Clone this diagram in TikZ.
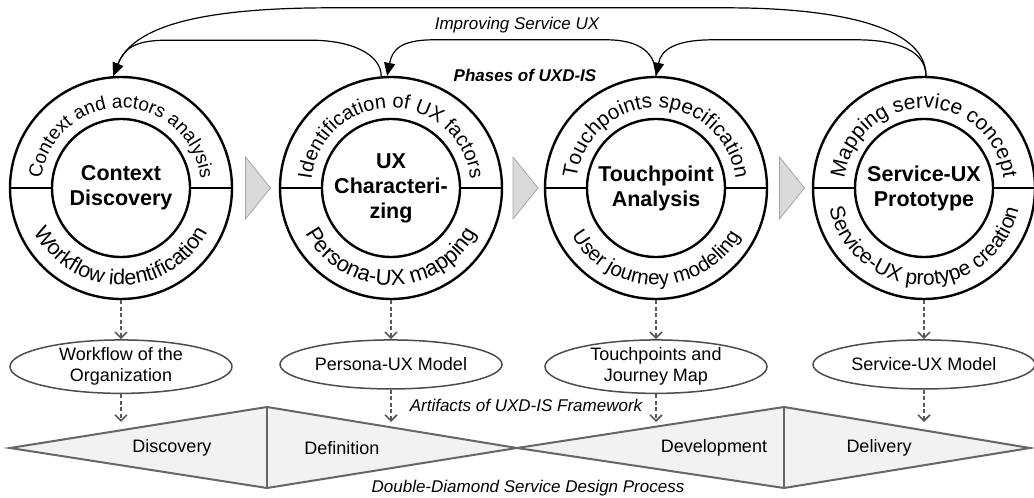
\documentclass[tikz,border=0pt]{standalone}
\usepackage{fontspec}
\setmainfont{Liberation Sans}
\usetikzlibrary{arrows.meta,positioning,calc,shapes.geometric,decorations.text}

\begin{document}
\begin{tikzpicture}[x=1pt, y=1pt,
    phase/.style={circle, draw, line width=2.4pt, minimum size=222pt, inner sep=0pt},
    core/.style={circle, draw, line width=2.4pt, minimum size=138pt, inner sep=0pt, align=center, font=\fontsize{21.5}{25}\selectfont\bfseries},
    artifact/.style={ellipse, draw=black!70, line width=1.5pt, fill=white, minimum width=222pt, minimum height=49pt, inner sep=0pt, align=center, font=\fontsize{18}{21}\selectfont},
    nextstep/.style={draw=black!35, fill=black!15, line width=0.8pt},
    feedback/.style={-{Triangle[length=13pt,width=11pt]}, line width=1.2pt},
    outarrow/.style={-{Straight Barb[length=6pt,width=12pt]}, draw=black!65, line width=1.6pt, dash pattern=on 4pt off 2.5pt},
    halfdiamond/.style={draw=black!60, fill=black!5, line width=2pt},
    stage/.style={font=\fontsize{18}{21}\selectfont},
    note/.style={font=\fontsize{17}{20}\selectfont\itshape},
    boldnote/.style={font=\fontsize{17}{20}\selectfont\bfseries\itshape}
]
\useasboundingbox (0,0) rectangle (1034,498);

% double diamond
\path[halfdiamond] (10,50) -- (267,91) -- (517,50) -- (267,10) -- cycle;
\path[halfdiamond] (517,50) -- (784,91) -- (1030,50) -- (784,10) -- cycle;
\draw[halfdiamond] (267,91) -- (267,10);
\draw[halfdiamond] (784,91) -- (784,10);
\node[stage] (st1) at (172,50) {Discovery};
\node[stage] (st2) at (342,50) {Definition};
\node[stage] (st3) at (714,50) {Development};
\node[stage] (st4) at (879,50) {Delivery};

% phases
\node[phase] (c1) at (121,310) {};
\node[phase] (c2) at (391,310) {};
\node[phase] (c3) at (656,310) {};
\node[phase] (c4) at (924,310) {};
\node[core] (k1) at (c1) {Context\\Discovery};
\node[core] (k2) at (c2) {UX\\Characteri-\\zing};
\node[core] (k3) at (c3) {Touchpoint\\Analysis};
\node[core] (k4) at (c4) {Service-UX\\Prototype};
\foreach \n in {1,2,3,4} {
  \draw[line width=2.4pt] (k\n.west) -- (c\n.west);
  \draw[line width=2.4pt] (k\n.east) -- (c\n.east);
}

% activities on the rings
\path[decorate, decoration={text along path, text align=center,
  text={|\fontsize{19}{19}\selectfont|Context and actors analysis}}]
  ($(c1)+(180:80pt)$) arc[start angle=180, end angle=0, radius=80pt];
\path[decorate, decoration={text along path, text align=center,
  text={|\fontsize{21.5}{21.5}\selectfont|Workflow identification}}]
  ($(c1)+(180:97pt)$) arc[start angle=180, end angle=360, radius=97pt];
\path[decorate, decoration={text along path, text align=center,
  text={|\fontsize{20}{20}\selectfont|Identification of UX factors}}]
  ($(c2)+(180:80pt)$) arc[start angle=180, end angle=0, radius=80pt];
\path[decorate, decoration={text along path, text align=center,
  text={|\fontsize{22}{22}\selectfont|Persona-UX mapping}}]
  ($(c2)+(180:97pt)$) arc[start angle=180, end angle=360, radius=97pt];
\path[decorate, decoration={text along path, text align=center,
  text={|\fontsize{20.7}{20.7}\selectfont|Touchpoints specification}}]
  ($(c3)+(180:80pt)$) arc[start angle=180, end angle=0, radius=80pt];
\path[decorate, decoration={text along path, text align=center,
  text={|\fontsize{20.5}{20.5}\selectfont|User journey modeling}}]
  ($(c3)+(180:97pt)$) arc[start angle=180, end angle=360, radius=97pt];
\path[decorate, decoration={text along path, text align=center,
  text={|\fontsize{21}{21}\selectfont|Mapping service concept}}]
  ($(c4)+(180:80pt)$) arc[start angle=180, end angle=0, radius=80pt];
\path[decorate, decoration={text along path, text align=center,
  text={|\fontsize{21}{21}\selectfont|Service-UX protype creation}}]
  ($(c4)+(180:97pt)$) arc[start angle=180, end angle=360, radius=97pt];

% arrows between phases
\foreach \a/\b in {c1/c2, c2/c3, c3/c4}
  \path[nextstep] ($(\a.east)!0.5!(\b.west)$) ++(-10.5,31) -- ++(25,-31) -- ++(-25,-31) -- cycle;

% feedback loops
\draw[feedback] (c4.89) .. controls +(0,50) and +(110,0) .. ++(-200,68) -- ++(-395,0)
  .. controls +(-130,0) and +(20,50) .. (c1.94);
\draw[feedback] (c2.95) .. controls +(0,22) and +(40,0) .. ++(-70,36) -- ++(-145,0)
  .. controls +(-35,0) and +(10,25) .. (c1.94);
\draw[feedback] (c3.north) .. controls +(0,22) and +(35,0) .. ++(-50,36) -- ++(-172,0)
  .. controls +(-35,0) and +(5,25) .. (c2.92);
\draw[feedback] (c4.89) .. controls +(0,25) and +(40,0) .. ++(-69,36) -- ++(-144,0)
  .. controls +(-40,0) and +(5,25) .. (c3.north);
\node[note] (improve) at (517,473) {Improving Service UX};
\node[boldnote] (phases) at (525,423) {Phases of UXD-IS};

% artifacts
\node[artifact, below=39pt of c1] (a1) {Workflow of the\\Organization};
\node[artifact, below=39pt of c2] (a2) {Persona-UX Model};
\node[artifact, below=39pt of c3] (a3) {Touchpoints and\\Journey Map};
\node[artifact, below=39pt of c4] (a4) {Service-UX Model};
\foreach \n in {1,2,3,4} {
  \coordinate (d\n) at (a\n.south |- 0,76);
  \draw[outarrow] (c\n) -- (a\n);
  \draw[outarrow] (a\n) -- (d\n);
}
\node[note] (arts) at (526,93) {Artifacts of UXD-IS Framework};
\node[note] (ddsd) at (528,10) {Double-Diamond Service Design Process};

\end{tikzpicture}
\end{document}
